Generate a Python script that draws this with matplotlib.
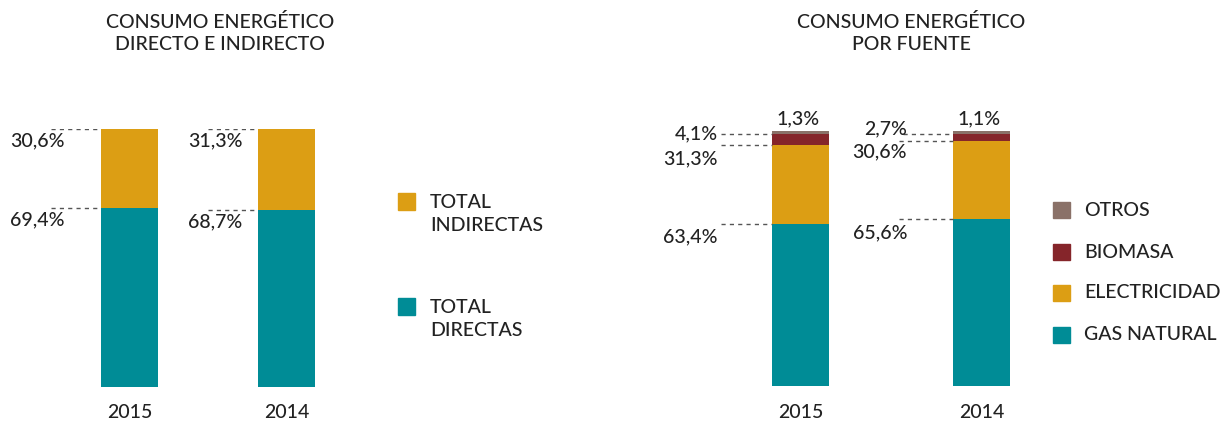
import matplotlib
matplotlib.use("Agg")
import matplotlib.pyplot as plt
from matplotlib.patches import Rectangle

# ---------------- data ----------------
years = ["2015", "2014"]
directas = [69.4, 68.7]
indirectas = [30.6, 31.3]

gas_natural = [63.4, 65.6]
electricidad = [31.3, 30.6]
biomasa = [4.1, 2.7]
otros = [1.3, 1.1]

title_left = "CONSUMO ENERGÉTICO\nDIRECTO E INDIRECTO"
title_right = "CONSUMO ENERGÉTICO\nPOR FUENTE"
legend_left = ["TOTAL\nINDIRECTAS", "TOTAL\nDIRECTAS"]
legend_right = ["OTROS", "BIOMASA", "ELECTRICIDAD", "GAS NATURAL"]

# ---------------- style ----------------
TEAL = "#008C96"
GOLD = "#DC9E14"
RED = "#85252A"
GREY = "#8A7168"
TXT = "#222222"
DASH = "#555555"
FONT = "Lato"
FS = 14
FW = 500

W, H = 1230, 425
plt.rcParams["font.family"] = [FONT, "DejaVu Sans"]
plt.rcParams["font.weight"] = FW
fig = plt.figure(figsize=(W / 100, H / 100), dpi=100)


def fx(px):
    return px / W


def fy(py):
    return 1 - py / H


# ---------------- left chart ----------------
axL = fig.add_axes([0, fy(387), fx(615), 258 / H])
scaleL = 157.0  # px per category unit
wL = 57 / scaleL
axL.set_xlim(-129.5 / scaleL, (615 - 129.5) / scaleL)
axL.set_ylim(0, 100)
axL.axis("off")
xs = list(range(len(years)))
axL.bar(xs, directas, width=wL, color=TEAL)
axL.bar(xs, indirectas, width=wL, bottom=directas, color=GOLD)

lab_dx_L = [-91, -70]  # label left offset from bar left (px)
for i in xs:
    left = i - wL / 2
    tops = [directas[i], directas[i] + indirectas[i]]
    vals = [directas[i], indirectas[i]]
    for top, v in zip(tops, vals):
        axL.plot([left - 50 / scaleL, left], [top, top], ls=(0, (3, 3)), color=DASH, lw=1)
        axL.annotate(f"{v:.1f}%".replace(".", ","), (left, top),
                     xytext=(lab_dx_L[i], -12), textcoords="offset pixels",
                     ha="left", va="center", fontsize=FS, color=TXT)
    axL.annotate(years[i], (i, 0), xytext=(0, -26), textcoords="offset pixels",
                 ha="center", va="center", fontsize=FS, color=TXT)

fig.text(fx(220), fy(33), title_left, ha="center", va="center", fontsize=FS,
         color=TXT, linespacing=1.4)

# left legend
for (lab, col, ytop) in zip(legend_left, [GOLD, TEAL], [193, 298]):
    fig.patches.append(Rectangle((fx(398), fy(ytop + 17)), fx(17), 17 / H,
                                 transform=fig.transFigure, color=col))
    fig.text(fx(430), fy(ytop + 21), lab, ha="left", va="center", fontsize=FS,
             color=TXT, linespacing=1.4)

# ---------------- right chart ----------------
axR = fig.add_axes([fx(615), fy(386), fx(615), 255 / H])
scaleR = 181.0
wR = 57 / scaleR
axR.set_xlim((615 - 800.5) / scaleR, (1230 - 800.5) / scaleR)
axR.set_ylim(0, 100)
axR.axis("off")
b1 = gas_natural
b2 = [a + b for a, b in zip(b1, electricidad)]
b3 = [a + b for a, b in zip(b2, biomasa)]
axR.bar(xs, gas_natural, width=wR, color=TEAL)
axR.bar(xs, electricidad, width=wR, bottom=b1, color=GOLD)
axR.bar(xs, biomasa, width=wR, bottom=b2, color=RED)
axR.bar(xs, otros, width=wR, bottom=b3, color=GREY)

line_len_R = [51, 50]
lab_dx_R = [-54, -46]
# vertical offsets of labels relative to their dashed line: gas, elec, biomasa
lab_dy_R = [[-13, -14, 0], [-14, -11, 5]]
line_dx_R = [[0, 0, 0], [-4, -4, 0]]
for i in xs:
    left = i - wR / 2
    tops = [b1[i], b2[i], b3[i]]
    vals = [gas_natural[i], electricidad[i], biomasa[i]]
    for k, (top, v) in enumerate(zip(tops, vals)):
        x0 = left - (line_len_R[i] - line_dx_R[i][k]) / scaleR
        axR.plot([x0, left], [top, top], ls=(0, (3, 3)), color=DASH, lw=1)
        axR.annotate(f"{v:.1f}%".replace(".", ","), (left, top),
                     xytext=(lab_dx_R[i], lab_dy_R[i][k]), textcoords="offset pixels",
                     ha="right", va="center", fontsize=FS, color=TXT)
    axR.annotate(f"{otros[i]:.1f}%".replace(".", ","), (i, b3[i] + otros[i]),
                 xytext=(-2, 12), textcoords="offset pixels",
                 ha="center", va="center", fontsize=FS, color=TXT)
    axR.annotate(years[i], (i, 0), xytext=(0, -27), textcoords="offset pixels",
                 ha="center", va="center", fontsize=FS, color=TXT)

fig.text(fx(911), fy(33), title_right, ha="center", va="center", fontsize=FS,
         color=TXT, linespacing=1.4)

for (lab, col, yc) in zip(legend_right, [GREY, RED, GOLD, TEAL], [210, 252, 293, 335]):
    fig.patches.append(Rectangle((fx(1053), fy(yc + 8)), fx(17), 16 / H,
                                 transform=fig.transFigure, color=col))
    fig.text(fx(1084), fy(yc), lab, ha="left", va="center", fontsize=FS, color=TXT)

fig.savefig("out.png", dpi=100)
